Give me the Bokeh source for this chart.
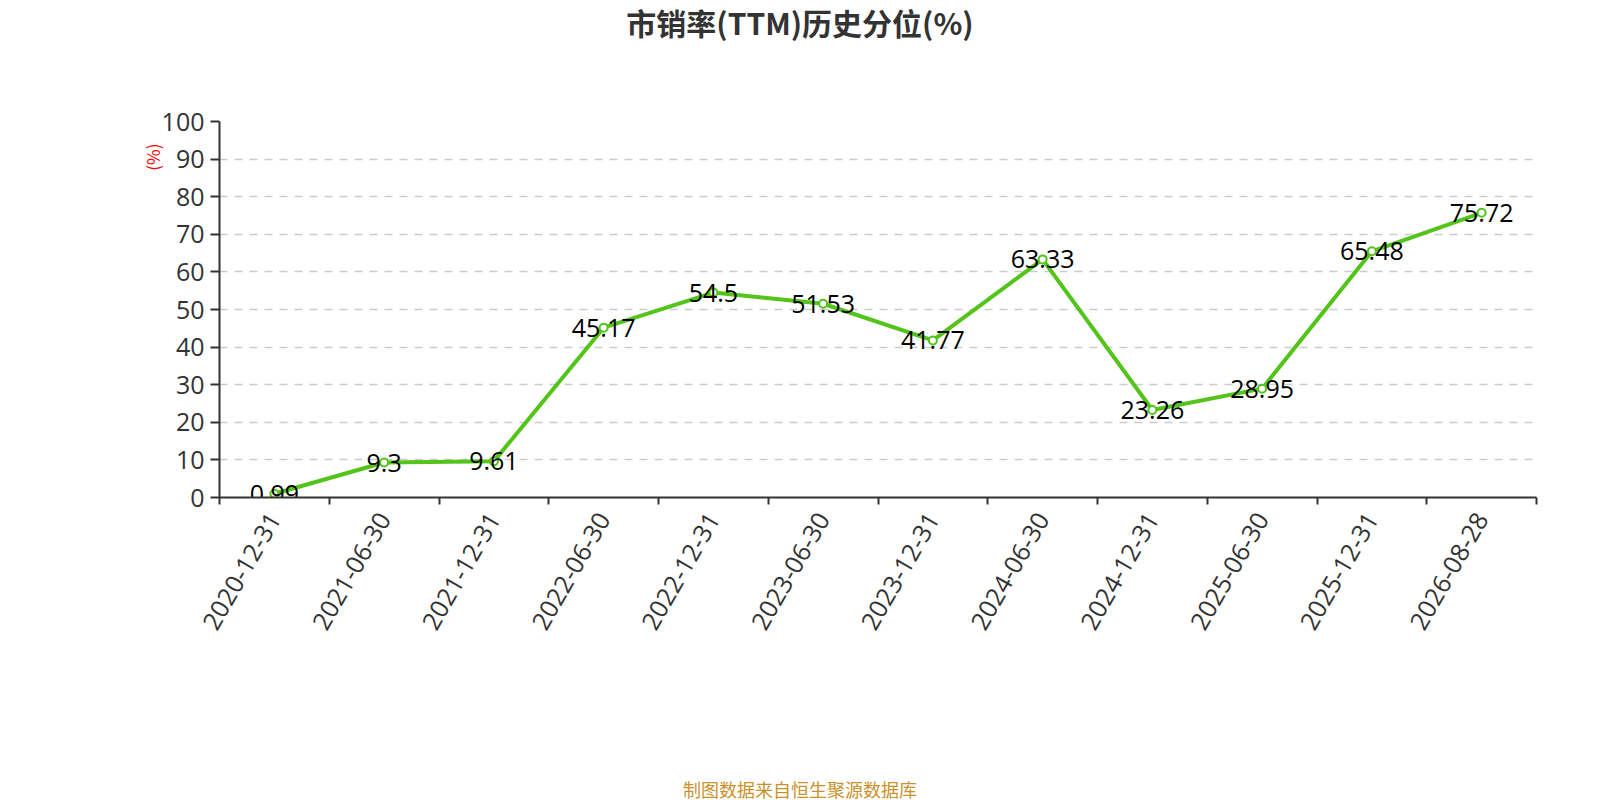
import math
from bokeh.plotting import figure
from bokeh.models import Range1d, FixedTicker, ColumnDataSource, Title, Div
from bokeh.layouts import column
from bokeh.core.properties import value
from bokeh.embed import file_html
from bokeh.resources import INLINE

categories = ["2020-12-31", "2021-06-30", "2021-12-31", "2022-06-30", "2022-12-31",
              "2023-06-30", "2023-12-31", "2024-06-30", "2024-12-31", "2025-06-30",
              "2025-12-31", "2026-08-28"]
values = [0.99, 9.3, 9.61, 45.17, 54.5, 51.53, 41.77, 63.33, 23.26, 28.95, 65.48, 75.72]
y_ticks = [0, 10, 20, 30, 40, 50, 60, 70, 80, 90, 100]
title_text = "市销率(TTM)历史分位(%)"
footer_text = "制图数据来自恒生聚源数据库"
y_name = "(%)"

GREEN = "#52c41a"
AXIS = "#333333"
NUM_FONT = "Open Sans"
CJK_FONT = "Noto Sans CJK SC"
NUM_SIZE = "25px"

W = 1600
TITLE_H, FOOTER_H = 45, 22
FIG_H = 800 - TITLE_H - FOOTER_H
LEFT, RIGHT, TOP, BOTTOM = 219, 64, 76, 281

xs = list(range(len(categories)))
src = ColumnDataSource(dict(x=xs, y=values, label=[f"{v:g}" for v in values]))

p = figure(width=W, height=FIG_H, output_backend="svg", toolbar_location=None,
           x_range=Range1d(-0.5, len(categories) - 0.5), y_range=Range1d(0, 100),
           min_border_left=LEFT, min_border_right=RIGHT, min_border_top=TOP,
           min_border_bottom=BOTTOM, title=None, margin=0)
p.outline_line_color = None
p.background_fill_color = "white"
p.border_fill_color = "white"

# grid
p.xgrid.grid_line_color = None
p.ygrid.ticker = FixedTicker(ticks=y_ticks)
p.ygrid.grid_line_color = "#cccccc"
p.ygrid.grid_line_width = 1.5
p.ygrid.grid_line_dash = "8 7"

# x axis
xa = p.xaxis[0]
xa.ticker = FixedTicker(ticks=xs, minor_ticks=[i - 0.5 for i in range(len(categories) + 1)])
xa.major_label_overrides = {i: c for i, c in enumerate(categories)}
xa.major_tick_out = 0
xa.major_tick_in = 0
xa.minor_tick_out = 7
xa.minor_tick_in = 0
xa.minor_tick_line_color = AXIS
xa.minor_tick_line_width = 2
xa.axis_line_color = AXIS
xa.axis_line_width = 2
xa.major_label_orientation = math.pi / 3
xa.major_label_standoff = 10
xa.major_label_text_font = NUM_FONT
xa.major_label_text_font_size = NUM_SIZE
xa.major_label_text_color = AXIS

# y axis
ya = p.yaxis[0]
ya.ticker = FixedTicker(ticks=y_ticks)
ya.major_tick_out = 9
ya.major_tick_in = 0
ya.minor_tick_out = 0
ya.minor_tick_in = 0
ya.major_tick_line_color = AXIS
ya.major_tick_line_width = 2
ya.axis_line_color = AXIS
ya.axis_line_width = 2
ya.major_label_standoff = 6
ya.major_label_text_font = NUM_FONT
ya.major_label_text_font_size = NUM_SIZE
ya.major_label_text_color = AXIS

# series
p.line("x", "y", source=src, line_color=GREEN, line_width=4)
p.scatter("x", "y", source=src, marker="circle", size=8, fill_color="white",
          line_color=GREEN, line_width=2)
p.text("x", "y", text="label", source=src, text_align="center", text_baseline="middle",
       text_font=value(NUM_FONT), text_font_size=NUM_SIZE, text_color="#000000")

# axis name at top of left side
p.add_layout(Title(text=y_name, align="right", offset=22, vertical_align="bottom",
                   standoff=-12, text_font=CJK_FONT, text_font_size="17px",
                   text_font_style="normal", text_color="#ff0000"), "left")

title_div = Div(
    text=(f'<div style="width:{W}px;box-sizing:border-box;text-align:center;'
          f'font-family:\'{CJK_FONT}\';font-weight:bold;font-size:30px;color:#333333;'
          f'line-height:{TITLE_H}px;white-space:nowrap;">{title_text}</div>'),
    width=W, height=TITLE_H, margin=0)
footer_div = Div(
    text=(f'<div style="width:{W}px;box-sizing:border-box;text-align:center;'
          f'font-family:\'{CJK_FONT}\';font-size:18px;color:#c8922c;'
          f'line-height:{FOOTER_H}px;white-space:nowrap;">{footer_text}</div>'),
    width=W, height=FOOTER_H, margin=0)

layout = column(title_div, p, footer_div, spacing=0, margin=0)

open("out.html", "w").write(file_html(layout, INLINE))
